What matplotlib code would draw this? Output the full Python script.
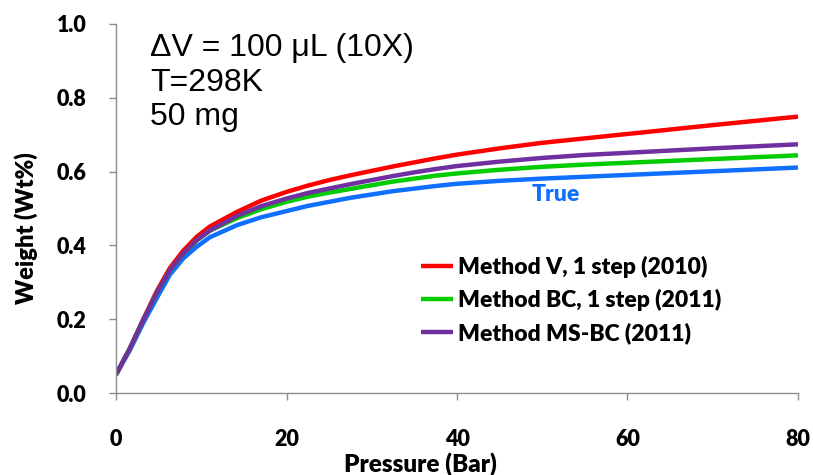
import numpy as np
import matplotlib
matplotlib.use('Agg')
import matplotlib.pyplot as plt

# Pressure points (Bar)
pressure = [0, 1.6, 3.2, 4.8, 6.3, 7.9, 9.5, 11, 14.2, 17, 20, 22.5, 25, 27.5, 30, 32.5, 35, 37.5, 40, 45, 50, 55, 60, 70, 80]

# Weight (Wt%) for each method
method_v = [0.05, 0.12, 0.20, 0.277, 0.338, 0.386, 0.424, 0.451, 0.491, 0.521, 0.545, 0.562, 0.577, 0.590, 0.602, 0.614, 0.625, 0.636, 0.646, 0.663, 0.678, 0.690, 0.702, 0.726, 0.749]
method_bc = [0.05, 0.12, 0.198, 0.272, 0.331, 0.377, 0.414, 0.440, 0.474, 0.498, 0.518, 0.532, 0.543, 0.553, 0.563, 0.573, 0.581, 0.589, 0.595, 0.605, 0.613, 0.619, 0.624, 0.634, 0.644]
method_msbc = [0.05, 0.12, 0.198, 0.272, 0.332, 0.378, 0.415, 0.440, 0.480, 0.506, 0.527, 0.542, 0.554, 0.566, 0.577, 0.588, 0.598, 0.607, 0.615, 0.627, 0.637, 0.645, 0.651, 0.663, 0.674]
true_vals = [0.05, 0.115, 0.19, 0.258, 0.320, 0.365, 0.397, 0.422, 0.455, 0.476, 0.493, 0.507, 0.518, 0.529, 0.538, 0.547, 0.554, 0.561, 0.567, 0.575, 0.581, 0.586, 0.591, 0.601, 0.611]

labels = ['Method V, 1 step (2010)', 'Method BC, 1 step (2011)', 'Method MS-BC (2011)']
x_ticks = [0, 20, 40, 60, 80]
y_ticks = [0.0, 0.2, 0.4, 0.6, 0.8, 1.0]

# Colours
RED = '#FF0000'
GREEN = '#00CC00'
PURPLE = '#7030A0'
BLUE = '#0F6FFF'

fig = plt.figure(figsize=(8.13, 4.75), dpi=100)
ax = fig.add_axes([0.1427, 0.1726, 0.8388, 0.7769])

lw = 3.2
ax.plot(pressure, true_vals, color=BLUE, lw=lw, solid_capstyle='butt', solid_joinstyle='round')
l_v, = ax.plot(pressure, method_v, color=RED, lw=lw, solid_capstyle='butt', solid_joinstyle='round')
l_bc, = ax.plot(pressure, method_bc, color=GREEN, lw=lw, solid_capstyle='butt', solid_joinstyle='round')
l_ms, = ax.plot(pressure, method_msbc, color=PURPLE, lw=lw, solid_capstyle='butt', solid_joinstyle='round')

ax.set_xlim(0, 80)
ax.set_ylim(0, 1.0)
ax.set_xticks(x_ticks)
ax.set_yticks(y_ticks)
ax.set_xticklabels([str(t) for t in x_ticks])
ax.set_yticklabels([f'{t:.1f}' for t in y_ticks])

for side in ['top', 'right']:
    ax.spines[side].set_visible(False)
for side in ['left', 'bottom']:
    ax.spines[side].set_color('#8C8C8C')
    ax.spines[side].set_linewidth(1.0)

ax.tick_params(axis='both', direction='out', length=5, width=1.0, color='#8C8C8C')
ax.tick_params(axis='x', pad=21)
ax.tick_params(axis='y', pad=16)
for lab in ax.get_xticklabels() + ax.get_yticklabels():
    lab.set_fontfamily('Lato')
    lab.set_fontweight('heavy')
    lab.set_fontsize(15.5)

# Axis labels sit a bit off-centre in the original
ax.set_xlabel('Pressure (Bar)', fontfamily='Lato', fontweight='heavy', fontsize=17.5, labelpad=0)
ax.xaxis.set_label_coords(0.447, -0.16)
ax.set_ylabel('Weight (Wt%)', fontfamily='Lato', fontweight='heavy', fontsize=17)
ax.yaxis.set_label_coords(-0.114, 0.446)

# Annotation block
ax.text(0.05, 0.975, '\u0394V = 100 \u03bcL (10X)\nT=298K\n50 mg', transform=ax.transAxes,
        fontfamily='Liberation Sans', fontsize=23, va='top', ha='left', linespacing=1.2)

ax.text(51.6, 0.537, 'True', color=BLUE, fontfamily='Lato', fontweight='heavy',
        fontsize=16.5, ha='center', va='center')

leg = ax.legend([l_v, l_bc, l_ms], labels, loc='center left', bbox_to_anchor=(0.447, 0.252),
                frameon=False, borderpad=0, borderaxespad=0, handlelength=1.4,
                handletextpad=0.2, labelspacing=0.5,
                prop={'family': 'Lato', 'weight': 'heavy', 'size': 16.5})

fig.savefig('out.png', dpi=100)
